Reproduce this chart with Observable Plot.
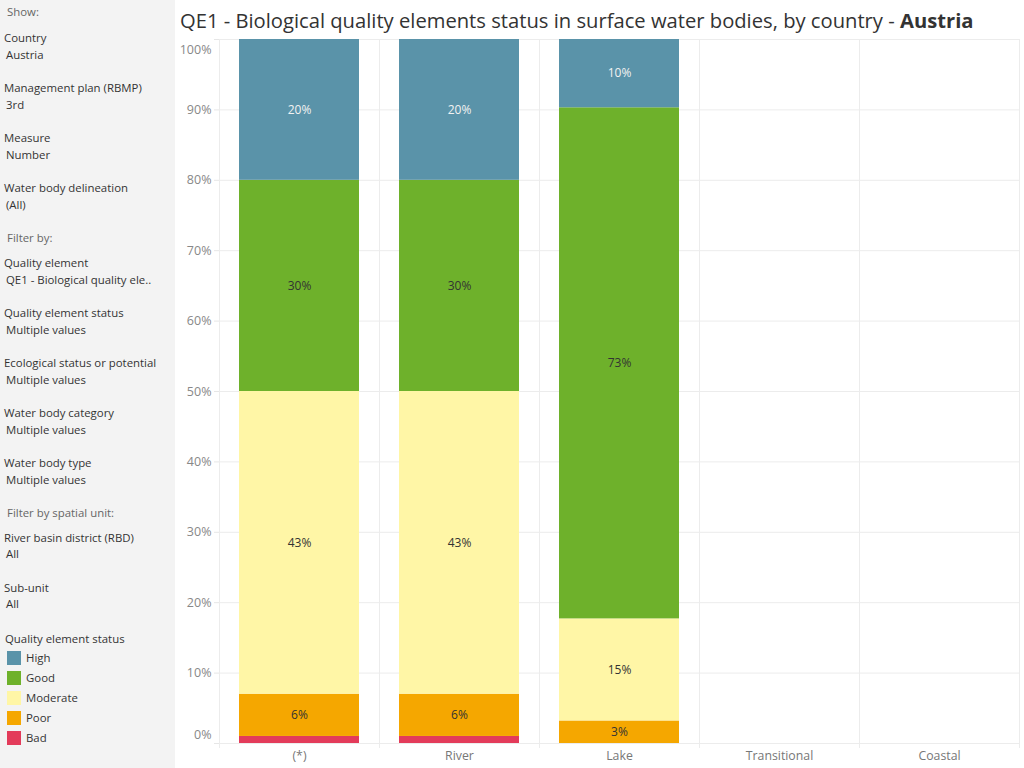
<!DOCTYPE html>
<html>
<head>
<meta charset="utf-8">
<script src="https://cdn.jsdelivr.net/npm/d3@7"></script>
<script src="https://cdn.jsdelivr.net/npm/@observablehq/plot@0.6"></script>
<style>
  body { margin: 0; width: 1024px; height: 768px; overflow: hidden; background: #fff; font-family: "Open Sans", sans-serif; position: relative; }
  #side { position: absolute; left: 0; top: 0; width: 175px; height: 768px; background: #f3f3f3; }
  .t { position: absolute; font-size: 11.4px; line-height: 14px; color: #333; white-space: nowrap; }
  .h { color: #666; }
  .sw { position: absolute; width: 14px; height: 14px; left: 7px; }
  #title { position: absolute; left: 180px; top: 7px; font-size: 20.2px; line-height: 26px; color: #333; white-space: nowrap; }
  #chart { position: absolute; left: 175px; top: 30px; }
</style>
</head>
<body>
<div id="side"></div>
<div id="title">QE1 - Biological quality elements status in surface water bodies, by country - <b>Austria</b></div>
<div id="chart"></div>
<script>
// Water body categories along the x axis
const categories = ["(*)", "River", "Lake", "Transitional", "Coastal"];
// Quality element status, stacked bottom to top
const statuses = ["Bad", "Poor", "Moderate", "Good", "High"];
const statusColors = ["#e33b5a", "#f5a700", "#fff6a6", "#6eb12b", "#5a93a9"];
// Share of water bodies (%) per status, in the order of `statuses`
const shareAll = [1, 6, 43, 30, 20];
const shareRiver = [1, 6, 43, 30, 20];
const shareLake = [0, 3.2, 14.5, 72.6, 9.7];
// Y axis ticks (%)
const yTicks = [0, 10, 20, 30, 40, 50, 60, 70, 80, 90, 100];

// Side panel filters
const showFilters = [
  ["Country", "Austria"],
  ["Management plan (RBMP)", "3rd"],
  ["Measure", "Number"],
  ["Water body delineation", "(All)"]
];
const byFilters = [
  ["Quality element", "QE1 - Biological quality ele.."],
  ["Quality element status", "Multiple values"],
  ["Ecological status or potential", "Multiple values"],
  ["Water body category", "Multiple values"],
  ["Water body type", "Multiple values"]
];
const spatialFilters = [
  ["River basin district (RBD)", "All"],
  ["Sub-unit", "All"]
];
const legendOrder = ["High", "Good", "Moderate", "Poor", "Bad"];

// ---- side panel ----
const side = document.getElementById("side");
function addText(text, x, yc, cls) {
  const d = document.createElement("div");
  d.className = "t" + (cls ? " " + cls : "");
  d.textContent = text;
  d.style.left = x + "px";
  d.style.top = (yc - 7) + "px";
  side.appendChild(d);
}
let y = 12;
addText("Show:", 7, y, "h");
y = 38;
for (const [label, value] of showFilters) { addText(label, 4, y); addText(value, 6, y + 17); y += 50; }
addText("Filter by:", 7, 238, "h");
y = 263;
for (const [label, value] of byFilters) { addText(label, 4, y); addText(value, 6, y + 17); y += 50; }
addText("Filter by spatial unit:", 7, 513, "h");
y = 538;
for (const [label, value] of spatialFilters) { addText(label, 4, y); addText(value, 6, y + 16); y += 50; }
addText("Quality element status", 5, 639);
legendOrder.forEach((s, i) => {
  const yc = 658 + i * 20;
  const sw = document.createElement("div");
  sw.className = "sw";
  sw.style.top = (yc - 7) + "px";
  sw.style.background = statusColors[statuses.indexOf(s)];
  side.appendChild(sw);
  addText(s, 26, yc);
});

// ---- chart data table ----
const series = {"(*)": shareAll, "River": shareRiver, "Lake": shareLake};
const rows = [];
for (const [category, values] of Object.entries(series)) {
  statuses.forEach((status, i) => rows.push({category, status, value: values[i]}));
}

const band = 160; // width of one category band in px
const pct = d => d + "%";
const yLabel = {tickSize: 0, tickPadding: 8, fill: "#888", fontSize: 12.5, tickFormat: pct};
const chart = Plot.plot({
  width: 849,
  height: 738,
  marginLeft: 44,
  marginRight: 5,
  marginTop: 9,
  marginBottom: 25,
  style: {fontFamily: "Open Sans, sans-serif", fontSize: "12px", background: "transparent"},
  x: {domain: categories, paddingInner: 0.25, paddingOuter: 0.125, label: null},
  y: {domain: [0, 100], label: null},
  color: {domain: statuses, range: statusColors},
  marks: [
    Plot.gridY(yTicks, {stroke: "#ececec", strokeOpacity: 1}),
    Plot.ruleX(categories, {x: d => d, dx: -band / 2, stroke: "#ececec", strokeOpacity: 1, insetBottom: -5}),
    Plot.ruleX(categories.slice(-1), {x: d => d, dx: band / 2, stroke: "#ececec", strokeOpacity: 1, insetBottom: -5}),
    // tick marks only
    Plot.axisY({ticks: yTicks, tickSize: 5, stroke: "#e6e6e6", tickFormat: () => ""}),
    // labels; the end labels are kept inside the plot frame
    Plot.axisY({...yLabel, ticks: yTicks.slice(1, -1)}),
    Plot.axisY({...yLabel, ticks: yTicks.slice(-1), dy: 10}),
    Plot.axisY({...yLabel, ticks: yTicks.slice(0, 1), dy: -9}),
    Plot.axisX({tickSize: 0, tickPadding: 8, fill: "#777", fontSize: 12.3}),
    Plot.barY(rows, {x: "category", y: "value", fill: "status", order: statuses}),
    Plot.text(rows, Plot.stackY({
      x: "category", y: "value", z: "status", order: statuses,
      text: d => d.value >= 2 ? Math.round(d.value) + "%" : "",
      fill: d => d.status === "High" ? "#f2f2f2" : "#333",
      fontSize: 12
    }))
  ]
});
document.getElementById("chart").appendChild(chart);
</script>
</body>
</html>
